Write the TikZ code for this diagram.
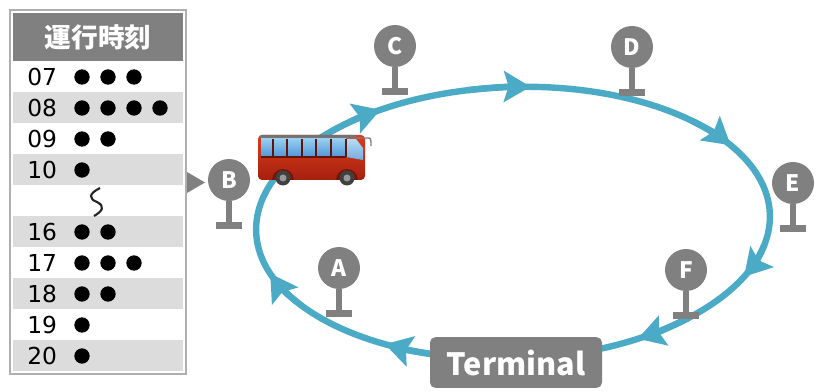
\documentclass[tikz,border=0pt]{standalone}
\usepackage{fontspec}
\setmainfont{Noto Sans CJK JP}
\newfontfamily\numfont{DejaVu Sans}
\usetikzlibrary{arrows.meta}

\definecolor{routeblue}{RGB}{75,170,198}
\definecolor{signgrey}{RGB}{128,128,128}
\definecolor{stripe}{RGB}{220,220,220}
\definecolor{frame}{RGB}{175,175,175}
\definecolor{busred}{RGB}{218,62,28}
\definecolor{busdark}{RGB}{165,32,14}
\definecolor{glass}{RGB}{80,150,215}
\definecolor{glasslight}{RGB}{150,205,240}

\tikzset{
  route/.style={line width=4.8pt, routeblue},
  routetip/.style={route, -{Stealth[length=20pt,width=23pt,inset=3.5pt]}},
  stopsign/.style={circle, fill=signgrey, text=white, inner sep=0pt, minimum size=31.5pt,
    font=\fontsize{17}{17}\selectfont\bfseries},
  pole/.style={line width=4.5pt, signgrey},
  foot/.style={line width=5.5pt, signgrey},
  tripdot/.style={circle, fill=black, inner sep=0pt, minimum size=11.5pt},
  hour/.style={anchor=west, inner sep=0pt, font=\numfont\fontsize{17.5}{18}\selectfont},
}

\begin{document}
\begin{tikzpicture}[x=0.75pt, y=-0.75pt]
  \useasboundingbox (0,0) rectangle (828,392);

  % loop line, clockwise, with its arrow tips
  \begin{scope}[shift={(513,223)}, rotate=2]
    \draw[route] (0,0) ellipse [x radius=257, y radius=136];
    \foreach \b in {162,240,275,329,27,62,121}
      \draw[routetip] (\b-14:257 and 136) arc[start angle=\b-14, end angle=\b, x radius=257, y radius=136];
  \end{scope}

  % timetable
  \draw[frame, line width=1.5pt] (10,10) rectangle (186,374);
  \fill[signgrey] (13,13) rectangle (183,61);
  \node[text=white, font=\fontsize{20}{20}\selectfont\bfseries] (head) at (98,37) {運行時刻};
  \foreach \h/\n [count=\k from 0] in {07/3, 08/4, 09/2, 10/1, --/0, 16/2, 17/3, 18/2, 19/1, 20/1} {
    \ifodd\k \fill[stripe] (13,{61+31*\k}) rectangle (183,{92+31*\k}); \fi
    \ifnum\n>0
      \node[hour] (h\k) at (27,{77+31*\k}) {\h};
      \foreach \j in {1,...,\n}
        \node[tripdot] (d\k-\j) at ({56+26*\j},{77+31*\k}) {};
    \fi
  }
  % break mark between 10 and 16
  \draw[line width=1.6pt, black!85] (100,188) .. controls (88,194) and (89,199) .. (97,202)
    .. controls (105,206) and (103,211) .. (94,216);
  % pointer to stop B
  \fill[signgrey] (187,172) -- (205,182.5) -- (187,193) -- cycle;

  % stops
  \foreach \s/\x/\y in {A/339/268, B/229/180, C/395/46, D/632/47, E/793/183, F/686/270} {
    \node[stopsign] (\s) at (\x,\y) {\s};
    \draw[pole] (\s.south) -- ++(0,24) coordinate (\s-base);
    \draw[foot] ([xshift=-9.4pt]\s-base) -- ([xshift=9.4pt]\s-base);
  }

  % terminal
  \node[fill=signgrey, text=white, rounded corners=4pt, minimum width=129pt, minimum height=38pt,
    font=\fontsize{23}{23}\selectfont\bfseries] (term) at (516,362.5) {Terminal};

  % bus
  \shade[top color=busred, bottom color=busdark, rounded corners=3pt] (258,135) rectangle (365,180);
  \fill[black!55, rounded corners=2pt] (259,135) rectangle (356,138.5);
  \shade[top color=glasslight, bottom color=glass] (261,139) rectangle (346,157);
  \shade[top color=glasslight!70!white, bottom color=glass!80!white]
    (346,139) -- (356,139) -- (363,148) -- (363,160) -- (346,157) -- cycle;
  \foreach \x in {273,287,302,316,331,346}
    \draw[busdark!60!black, line width=1pt] (\x,139) -- (\x,157);
  \draw[busdark!60!black, line width=0.8pt] (261,157) -- (346,157);
  \foreach \x in {283,347} {
    \fill[busdark!70!black] (\x-11,180) arc[start angle=180, end angle=360, radius=11];
    \fill[black!75] (\x,178) circle (7.5);
    \fill[black!40] (\x,178) circle (3.5);
  }
  \draw[black!50, line width=1pt] (356,138) -- (367,138) .. controls (371,138) .. (371,146);
\end{tikzpicture}
\end{document}
